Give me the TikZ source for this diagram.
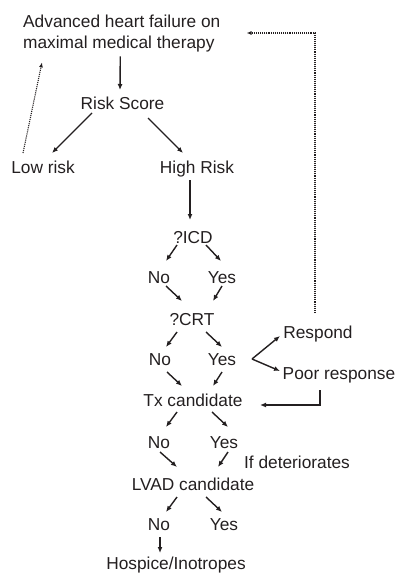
\documentclass[tikz,border=0pt]{standalone}
\usepackage{fontspec}
\setmainfont{Liberation Sans}
\usepackage{tikz}
\usetikzlibrary{arrows.meta}
\definecolor{ink}{HTML}{231F20}

\begin{document}
\begin{tikzpicture}[x=1pt,y=-1pt,
  every node/.style={font=\fontsize{17.3}{21}\selectfont,text=ink,inner sep=0pt},
  lbl/.style={anchor=base},
  arr/.style={draw=ink,line width=1.4pt,-{Latex[length=6pt,width=5pt]}},
  back/.style={draw=ink,line width=1.1pt,densely dotted,-{Latex[length=5pt,width=4pt]}}]

\useasboundingbox (0,0) rectangle (395,575);

% Start and risk split
\node[anchor=north west,align=left] (hf) at (23,14.4) {Advanced heart failure on\\maximal medical therapy};
\node[lbl] (risk) at (122.5,110) {Risk Score};
\node[lbl] (low)  at (43,173)    {Low risk};
\node[lbl] (high) at (197,173)   {High Risk};

% Device questions
\node[lbl] (icd)  at (193,243) {?ICD};
\node[lbl] (noa)  at (159,283) {No};
\node[lbl] (yesa) at (222,283) {Yes};
\node[lbl] (crt)  at (192,325) {?CRT};
\node[lbl] (nob)  at (160,365) {No};
\node[lbl] (yesb) at (222,365) {Yes};
\node[lbl] (resp) at (318,338) {Respond};
\node[lbl] (poor) at (339,379) {Poor response};

% Transplant and LVAD
\node[lbl] (tx)   at (193,406) {Tx candidate};
\node[lbl] (noc)  at (159,448) {No};
\node[lbl] (yesc) at (224,448) {Yes};
\node[lbl] (det)  at (297,468) {If deteriorates};
\node[lbl] (lvad) at (193,490) {LVAD candidate};
\node[lbl] (nod)  at (159,530) {No};
\node[lbl] (yesd) at (224,530) {Yes};
\node[lbl] (hosp) at (176,569) {Hospice/Inotropes};

% Solid arrows
\draw[arr] ([shift={(-1.5,4.5)}]hf.south) -- ([shift={(-2.5,-20)}]risk.base);
\draw[arr] ([shift={(-30.5,3)}]risk.base) -- ([shift={(9,-20)}]low.base);
\draw[arr] ([shift={(25.5,8)}]risk.base) -- ([shift={(-14,-20)}]high.base);
\draw[arr] ([shift={(-7,7)}]high.base) -- ([shift={(-3,-23)}]icd.base);
\draw[arr] ([shift={(-16,2)}]icd.base) -- ([shift={(7,-22)}]noa.base);
\draw[arr] ([shift={(13,2)}]icd.base) -- ([shift={(-1,-22)}]yesa.base);
\draw[arr] ([shift={(7,3)}]noa.base) -- ([shift={(-10,-24)}]crt.base);
\draw[arr] ([shift={(0,3)}]yesa.base) -- ([shift={(21,-24)}]crt.base);
\draw[arr] ([shift={(-15,7)}]crt.base) -- ([shift={(6,-18)}]nob.base);
\draw[arr] ([shift={(14,7)}]crt.base) -- ([shift={(0,-18)}]yesb.base);
\draw[arr] ([shift={(7,7)}]nob.base) -- ([shift={(-11,-20)}]tx.base);
\draw[arr] ([shift={(0,7)}]yesb.base) -- ([shift={(20,-20)}]tx.base);
\draw[arr] ([shift={(30,-6)}]yesb.base) -- ([shift={(-38,-2)}]resp.base);
\draw[arr] ([shift={(30,-6)}]yesb.base) -- ([shift={(-59,-8)}]poor.base);
\draw[arr] ([shift={(-19,11)}]poor.base) |- ([shift={(67,-1)}]tx.base);
\draw[arr] ([shift={(-16,6)}]tx.base) -- ([shift={(7,-21)}]noc.base);
\draw[arr] ([shift={(19,6)}]tx.base) -- ([shift={(4,-21)}]yesc.base);
\draw[arr] ([shift={(1,4)}]noc.base) -- ([shift={(-16,-23)}]lvad.base);
\draw[arr] ([shift={(4,4)}]yesc.base) -- ([shift={(25,-23)}]lvad.base);
\draw[arr] ([shift={(-16,7)}]lvad.base) -- ([shift={(7,-18)}]nod.base);
\draw[arr] ([shift={(13,7)}]lvad.base) -- ([shift={(-2,-18)}]yesd.base);
\draw[arr] ([shift={(1,7)}]nod.base) -- ([shift={(-16,-16)}]hosp.base);

% Dotted return arrows
\draw[back] ([shift={(-20,-20)}]low.base) -- ([shift={(19,10.4)}]hf.south west);
\draw[back] ([shift={(-3,-25)}]resp.base) |- ([shift={(26,18.6)}]hf.north east);

\end{tikzpicture}
\end{document}
